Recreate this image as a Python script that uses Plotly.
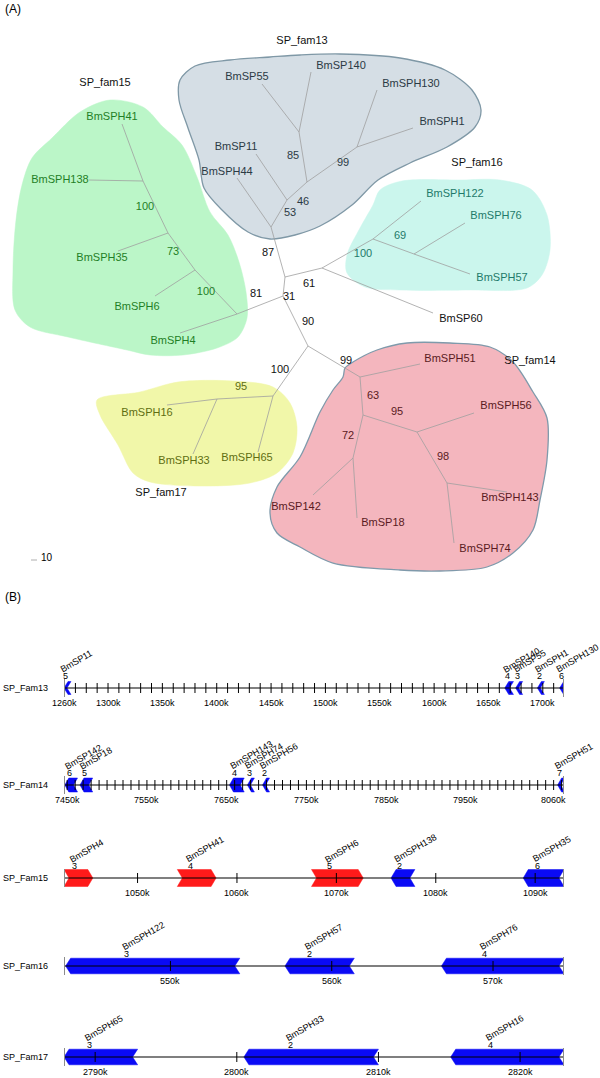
import plotly.graph_objects as go

W, H = 600, 1078
FONT = "Liberation Sans, Arial, Helvetica, sans-serif"

# ======================= Panel A : unrooted tree =======================
node_ids = ["tSP55", "tSP140", "tSPH130", "tSPH1", "tSP11", "tSPH44",
            "n13a", "n13b", "n13c", "n13d", "n13e",
            "cX", "cY", "cZ",
            "n16r", "n16a", "n16b", "tSPH122", "tSPH76", "tSPH57", "tSP60",
            "n15d", "n15c", "n15b", "n15a", "tSPH4", "tSPH6", "tSPH35", "tSPH41", "tSPH138",
            "n17a", "n17b", "tSPH65", "tSPH16", "tSPH33",
            "n14r", "n14a", "n14b", "n14c", "n14d", "tSPH51", "tSPH56", "tSPH143", "tSPH74", "tSP18", "tSP142"]
node_x = [262, 311, 377, 413, 256, 237,
          299, 357, 307, 287, 271,
          285, 283, 308,
          322, 373, 414, 421, 465, 470, 433,
          237, 195, 168, 143, 180, 155, 118, 122, 89,
          273, 217, 258, 167, 193,
          360, 363, 417, 447, 353, 420, 474, 507, 454, 357, 313]
node_y = [84, 72, 90, 128, 154, 178,
          132, 147, 182, 200, 227,
          277, 296, 346,
          268, 239, 254, 201, 223, 274, 313,
          314, 270, 233, 181, 333, 296, 251, 124, 180,
          396, 399, 452, 405, 454,
          377, 415, 432, 483, 458, 364, 413, 492, 543, 518, 495]
edge_from = ["tSP55", "tSP140", "tSPH130", "tSPH1", "n13a", "n13b", "n13c", "tSP11", "n13d", "tSPH44", "n13e",
             "cX", "n16r", "n16r", "n16a", "n16a", "n16b", "n16b",
             "cX", "cY", "n15d", "n15d", "n15c", "n15c", "n15b", "n15b", "n15a", "n15a",
             "cY", "cZ", "n17a", "n17a", "n17b", "n17b",
             "cZ", "n14r", "n14r", "n14a", "n14b", "n14b", "n14c", "n14c", "n14a", "n14d", "n14d"]
edge_to = ["n13a", "n13a", "n13b", "n13b", "n13c", "n13c", "n13d", "n13d", "n13e", "n13e", "cX",
           "n16r", "tSP60", "n16a", "tSPH122", "n16b", "tSPH76", "tSPH57",
           "cY", "n15d", "tSPH4", "n15c", "tSPH6", "n15b", "tSPH35", "n15a", "tSPH41", "tSPH138",
           "cZ", "n17a", "tSPH65", "n17b", "tSPH16", "tSPH33",
           "n14r", "tSPH51", "n14a", "n14b", "tSPH56", "n14c", "tSPH143", "tSPH74", "n14d", "tSP18", "tSP142"]

fam_ids = ["SP_fam13", "SP_fam14", "SP_fam15", "SP_fam16", "SP_fam17"]
fam_label_x = [302, 530, 105, 477, 161]
fam_label_y = [41, 361, 83, 163, 493]
fam_fill = ["#d5dee5", "#f4b6be", "#bbf6c8", "#cbf6ed", "#f1f7a9"]
fam_border = ["#7f98a6", "#7f9aab", None, None, None]
fam_text = ["#2b3a44", "#5a1a22", "#1f7f26", "#1e7a6a", "#5f6e12"]

fam13_outline_x = [180, 195, 230, 270, 300, 340, 400, 445, 472, 481, 475, 447, 410, 378, 352, 320, 295, 270, 248, 222, 204, 199, 188, 179]
fam13_outline_y = [80, 66, 60, 57, 55, 54, 58, 70, 90, 110, 127, 147, 163, 180, 205, 226, 235, 239, 232, 210, 188, 160, 128, 100]
fam14_outline_x = [353, 377, 407, 450, 490, 513, 533, 547, 547, 540, 533, 513, 487, 440, 400, 333, 300, 277, 270, 277, 300, 320, 333, 343, 345]
fam14_outline_y = [362, 350, 343, 343, 347, 362, 392, 418, 460, 500, 530, 553, 567, 571, 570, 563, 547, 533, 513, 487, 457, 412, 390, 377, 368]
fam15_outline_x = [110, 143, 163, 182, 197, 210, 228, 239, 246, 247, 238, 217, 183, 150, 127, 68, 30, 15, 13, 16, 22, 32, 52, 80]
fam15_outline_y = [100, 107, 127, 145, 177, 212, 235, 262, 292, 318, 337, 348, 355, 355, 350, 337, 327, 310, 270, 220, 185, 158, 138, 112]
fam16_outline_x = [380, 402, 460, 500, 532, 547, 550, 542, 527, 467, 400, 365, 347, 347, 360, 373]
fam16_outline_y = [190, 181, 180, 180, 190, 215, 250, 275, 288, 290, 290, 287, 273, 255, 228, 205]
fam17_outline_x = [97, 140, 178, 233, 273, 290, 297, 293, 277, 250, 200, 150, 133, 118, 100]
fam17_outline_y = [400, 392, 382, 381, 387, 403, 427, 453, 473, 483, 486, 482, 473, 445, 415]

leaf_names = ["BmSP55", "BmSP140", "BmSPH130", "BmSPH1", "BmSP11", "BmSPH44",
              "BmSPH41", "BmSPH138", "BmSPH35", "BmSPH6", "BmSPH4",
              "BmSPH122", "BmSPH76", "BmSPH57", "BmSP60",
              "BmSPH51", "BmSPH56", "BmSPH143", "BmSPH74", "BmSP18", "BmSP142",
              "BmSPH16", "BmSPH33", "BmSPH65"]
leaf_fam = [0, 0, 0, 0, 0, 0,
            2, 2, 2, 2, 2,
            3, 3, 3, -1,
            1, 1, 1, 1, 1, 1,
            4, 4, 4]
leaf_label_x = [247, 341, 411, 442, 236, 227,
                112, 60, 102, 137, 173,
                455, 496, 502, 461,
                450, 506, 510, 485, 383, 296,
                147, 184, 247]
leaf_label_y = [77, 66, 84, 122, 147, 172,
                117, 180, 258, 307, 341,
                194, 216, 278, 319,
                359, 406, 498, 549, 523, 507,
                413, 461, 458]

boot_vals = [85, 99, 46, 53, 100, 73, 100, 69, 100, 95, 63, 95, 72, 98, 87, 81, 31, 61, 90, 99, 100]
boot_fam = [0, 0, 0, 0, 2, 2, 2, 3, 3, 4, 1, 1, 1, 1, -1, -1, -1, -1, -1, -1, -1]
boot_x = [293, 343, 303, 290, 145, 173, 206, 400, 363, 241, 373, 397, 348, 443, 268, 256, 289, 309, 308, 346, 280]
boot_y = [156, 163, 202, 213, 207, 252, 292, 236, 254, 387, 396, 412, 436, 457, 253, 294, 297, 284, 322, 361, 370]

scale_bar_len = 10

# ======================= Panel B : genomic tracks =======================
track_names = ["SP_Fam13", "SP_Fam14", "SP_Fam15", "SP_Fam16", "SP_Fam17"]
track_start_k = [1259.5, 7446.0, 1042.6, 543.4, 2787.8]
track_end_k = [1719.5, 8073.0, 1092.9, 574.4, 2823.1]
track_labels_k = [[1260, 1300, 1350, 1400, 1450, 1500, 1550, 1600, 1650, 1700],
                  [7450, 7550, 7650, 7750, 7850, 7950, 8060],
                  [1050, 1060, 1070, 1080, 1090],
                  [550, 560, 570],
                  [2790, 2800, 2810, 2820]]
track_minor_step_k = [10, 10, 0, 0, 0]

gene_track = [0, 0, 0, 0, 0, 1, 1, 1, 1, 1, 1, 2, 2, 2, 2, 2, 3, 3, 3, 4, 4, 4]
gene_name = ["BmSP11", "BmSP140", "BmSP55", "BmSPH1", "BmSPH130",
             "BmSP142", "BmSP18", "BmSPH143", "BmSPH74", "BmSPH56", "BmSPH51",
             "BmSPH4", "BmSPH41", "BmSPH6", "BmSPH138", "BmSPH35",
             "BmSPH122", "BmSPH57", "BmSPH76",
             "BmSPH65", "BmSPH33", "BmSPH16"]
gene_num = [5, 4, 3, 2, 6, 6, 5, 4, 3, 2, 7, 3, 4, 5, 2, 6, 3, 2, 4, 3, 2, 4]
gene_start_k = [1259.5, 1665, 1675, 1695, 1715.5,
                7447, 7466, 7653.5, 7676, 7695, 8065,
                1042.6, 1054.0, 1067.5, 1075.5, 1088.8,
                543.5, 557.1, 566.8,
                2787.8, 2800.5, 2815.1]
gene_end_k = [1263, 1673, 1681, 1700, 1719.5,
              7463, 7482, 7672, 7683.5, 7702, 8072,
              1045.5, 1057.9, 1072.7, 1077.9, 1092.9,
              554.3, 561.4, 574.4,
              2793.0, 2810.0, 2823.1]
gene_strand = [-1, -1, -1, -1, -1,
               -1, -1, -1, -1, -1, -1,
               1, 1, 1, -1, -1,
               -1, -1, -1,
               -1, -1, -1]

# ======================= styling / geometry =======================
A_BOTTOM = 585
TRACK_LINE_PX = [688, 785, 878, 966, 1057]
TRACK_X0_PX, TRACK_X1_PX = 64, 564
GENE_HALF_PX = [6.5, 7, 8.5, 7.8, 7.8]
GENE_TIP_PX = [4, 4, 5, 5, 5]
STRAND_COLOR = {1: "#ff1a1a", -1: "#0a0af5"}
Y_LO, Y_HI = -12, 26


def pp(py):
    return 1 - py / H


fig = go.Figure()
layout = dict(width=W, height=H, margin=dict(l=0, r=0, t=0, b=0),
              paper_bgcolor="white", plot_bgcolor="white", showlegend=False,
              font=dict(family=FONT, color="black"))
layout["xaxis"] = dict(domain=[0, 1], range=[0, W], visible=False, anchor="y")
layout["yaxis"] = dict(domain=[pp(A_BOTTOM), 1], range=[A_BOTTOM, 0], visible=False, anchor="x")

outlines = [(fam13_outline_x, fam13_outline_y), (fam14_outline_x, fam14_outline_y),
            (fam15_outline_x, fam15_outline_y), (fam16_outline_x, fam16_outline_y),
            (fam17_outline_x, fam17_outline_y)]
for fi, (ox, oy) in enumerate(outlines):
    border = fam_border[fi]
    fig.add_trace(go.Scatter(
        x=ox + [ox[0]], y=oy + [oy[0]], mode="lines", fill="toself",
        fillcolor=fam_fill[fi],
        line=dict(shape="spline", smoothing=0.9,
                  color=border if border else fam_fill[fi], width=1.3 if border else 0.5),
        hoverinfo="skip", xaxis="x", yaxis="y"))

pos = {n: (x, y) for n, x, y in zip(node_ids, node_x, node_y)}
ex, ey = [], []
for a, b in zip(edge_from, edge_to):
    ex += [pos[a][0], pos[b][0], None]
    ey += [pos[a][1], pos[b][1], None]
fig.add_trace(go.Scatter(x=ex, y=ey, mode="lines", line=dict(color="#a0a0a0", width=0.8),
                         hoverinfo="skip", xaxis="x", yaxis="y"))


def text_color(f):
    return "#111111" if f < 0 else fam_text[f]


for f in range(-1, 5):
    idx = [i for i, lf in enumerate(leaf_fam) if lf == f]
    if idx:
        fig.add_trace(go.Scatter(
            x=[leaf_label_x[i] for i in idx], y=[leaf_label_y[i] for i in idx],
            text=[leaf_names[i] for i in idx], mode="text",
            textfont=dict(size=11, color=text_color(f), family=FONT),
            hoverinfo="skip", xaxis="x", yaxis="y"))
    bidx = [i for i, bf in enumerate(boot_fam) if bf == f]
    if bidx:
        fig.add_trace(go.Scatter(
            x=[boot_x[i] for i in bidx], y=[boot_y[i] for i in bidx],
            text=[str(boot_vals[i]) for i in bidx], mode="text",
            textfont=dict(size=11, color=text_color(f), family=FONT),
            hoverinfo="skip", xaxis="x", yaxis="y"))

fig.add_trace(go.Scatter(x=fam_label_x, y=fam_label_y, text=fam_ids, mode="text",
                         textfont=dict(size=11, color="#111111", family=FONT),
                         hoverinfo="skip", xaxis="x", yaxis="y"))

# scale bar
fig.add_trace(go.Scatter(x=[31, 31 + scale_bar_len * 0.6], y=[560, 560], mode="lines",
                         line=dict(color="#999999", width=0.8), hoverinfo="skip",
                         xaxis="x", yaxis="y"))
annotations = [
    dict(x=39, y=557, xref="x", yref="y", text=str(scale_bar_len), showarrow=False,
         xanchor="left", font=dict(size=10, family=FONT)),
    dict(x=3 / W, y=pp(9), xref="paper", yref="paper", text="(A)", showarrow=False,
         xanchor="left", yanchor="middle", font=dict(size=12, family=FONT)),
    dict(x=3 / W, y=pp(597), xref="paper", yref="paper", text="(B)", showarrow=False,
         xanchor="left", yanchor="middle", font=dict(size=12, family=FONT)),
]

# ---------------- tracks ----------------
for ti, name in enumerate(track_names):
    k = ti + 2
    xa, ya = f"x{k}", f"y{k}"
    s, e = track_start_k[ti], track_end_k[ti]
    line_px = TRACK_LINE_PX[ti]
    layout[f"xaxis{k}"] = dict(domain=[TRACK_X0_PX / W, TRACK_X1_PX / W], range=[s, e],
                               visible=False, anchor=ya)
    layout[f"yaxis{k}"] = dict(domain=[pp(line_px - Y_LO), pp(line_px - Y_HI)],
                               range=[Y_LO, Y_HI], visible=False, anchor=xa)
    kpp = (e - s) / (TRACK_X1_PX - TRACK_X0_PX)  # kb per pixel
    h = GENE_HALF_PX[ti]
    t = GENE_TIP_PX[ti] * kpp
    dmin = 3 * kpp
    # genes
    for gi in [g for g, tr in enumerate(gene_track) if tr == ti]:
        gs, ge, st = gene_start_k[gi], gene_end_k[gi], gene_strand[gi]
        L = ge - gs
        d = max(L - t, dmin)
        if st < 0:
            px = [gs, gs + t, gs + t + d, gs + d, gs + t + d, gs + t, gs]
        else:
            px = [ge, ge - t, ge - t - d, ge - d, ge - t - d, ge - t, ge]
        py = [0, h, h, 0, -h, -h, 0]
        fig.add_trace(go.Scatter(x=px, y=py, mode="lines", fill="toself",
                                 fillcolor=STRAND_COLOR[st],
                                 line=dict(color=STRAND_COLOR[st], width=0.5),
                                 hoverinfo="skip", xaxis=xa, yaxis=ya))
        nx = min(max(gs + 0.35 * L, s), e)
        annotations.append(dict(x=nx, y=0, yshift=12, xref=xa, yref=ya, text=str(gene_num[gi]),
                                showarrow=False, xanchor="center", yanchor="middle",
                                font=dict(size=9, family=FONT)))
        annotations.append(dict(x=nx, y=0, xshift=-9, yshift=11, xref=xa, yref=ya,
                                text=gene_name[gi], textangle=-30, showarrow=False,
                                xanchor="left", yanchor="bottom",
                                font=dict(size=9, family=FONT)))
    # main line
    fig.add_trace(go.Scatter(x=[s, e], y=[0, 0], mode="lines",
                             line=dict(color="black", width=1.1), hoverinfo="skip",
                             xaxis=xa, yaxis=ya))
    # tick marks
    step = track_minor_step_k[ti]
    if step:
        v = -(-s // step) * step
        ticks = []
        while v <= e:
            ticks.append(v)
            v += step
    else:
        ticks = track_labels_k[ti]
    tx, ty = [], []
    for v in ticks:
        tx += [v, v, None]
        ty += [-5, 5, None]
    fig.add_trace(go.Scatter(x=tx, y=ty, mode="lines", line=dict(color="black", width=1),
                             hoverinfo="skip", xaxis=xa, yaxis=ya))
    # end caps
    fig.add_trace(go.Scatter(x=[s, s, None, e, e], y=[-9, 9, None, -9, 9], mode="lines",
                             line=dict(color="#8c8c8c", width=2), hoverinfo="skip",
                             xaxis=xa, yaxis=ya))
    # tick labels
    for v in track_labels_k[ti]:
        annotations.append(dict(x=v, y=0, yshift=-15, xref=xa, yref=ya, text=f"{v}k",
                                showarrow=False, xanchor="center", yanchor="middle",
                                font=dict(size=9, family=FONT)))
    annotations.append(dict(x=1 / W, y=pp(line_px), xref="paper", yref="paper", text=name,
                            showarrow=False, xanchor="left", yanchor="middle",
                            font=dict(size=9, family=FONT)))

layout["annotations"] = annotations
fig.update_layout(**layout)
fig.write_html("out.html", config={"displayModeBar": False},
               post_script="document.body.style.margin='0';")
